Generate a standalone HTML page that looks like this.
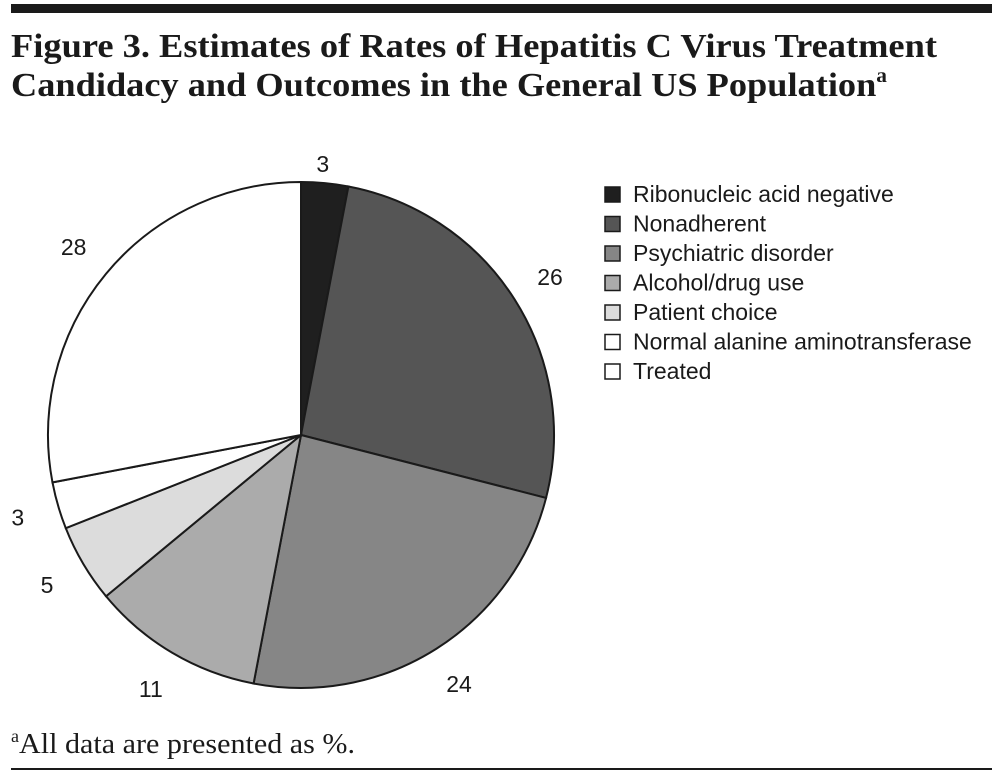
<!DOCTYPE html>
<html><head><meta charset="utf-8"><style>
body{margin:0;background:#fff}
svg{display:block}
</style></head><body>
<svg width="1002" height="775" xmlns="http://www.w3.org/2000/svg">
<rect x="11" y="4" width="981" height="9" fill="#1a1a1a"/>
<text x="11" y="57" font-family="Liberation Serif, serif" font-weight="bold" font-size="34" textLength="926" lengthAdjust="spacingAndGlyphs" fill="#1a1a1a">Figure 3. Estimates of Rates of Hepatitis C Virus Treatment</text>
<text x="11" y="96" font-family="Liberation Serif, serif" font-weight="bold" font-size="34" textLength="876" lengthAdjust="spacingAndGlyphs" fill="#1a1a1a">Candidacy and Outcomes in the General US Population<tspan font-size="20" dy="-14">a</tspan></text>
<g id="pie"></g>
<g id="legend"></g>
<text x="11" y="753" font-family="Liberation Serif, serif" font-size="29" fill="#1a1a1a"><tspan font-size="18" dy="-11">a</tspan><tspan dy="11" textLength="336" lengthAdjust="spacingAndGlyphs">All data are presented as %.</tspan></text>
<rect x="11" y="768" width="981" height="2" fill="#1a1a1a"/>
</svg>
<script>
const categories=["Ribonucleic acid negative","Nonadherent","Psychiatric disorder","Alcohol/drug use","Patient choice","Normal alanine aminotransferase","Treated"];
const values=[3,26,24,11,5,3,28];
const colors=["#1f1f1f","#555555","#868686","#ababab","#dcdcdc","#ffffff","#ffffff"];
const NS="http://www.w3.org/2000/svg";
const cx=301,cy=435,r=253,lr=295;
const pie=document.getElementById('pie');
const total=values.reduce((a,b)=>a+b,0);
let cum=0;
function pt(a,rad){return [cx+rad*Math.sin(a),cy-rad*Math.cos(a)];}
values.forEach((v,i)=>{
  const a0=cum/total*2*Math.PI;cum+=v;const a1=cum/total*2*Math.PI;
  const p0=pt(a0,r),p1=pt(a1,r);
  const path=document.createElementNS(NS,'path');
  path.setAttribute('d',`M${cx},${cy}L${p0[0]},${p0[1]}A${r},${r} 0 ${a1-a0>Math.PI?1:0} 1 ${p1[0]},${p1[1]}Z`);
  path.setAttribute('fill',colors[i]);path.setAttribute('stroke','#1a1a1a');path.setAttribute('stroke-width','2');
  
  
  pie.appendChild(path);
  const am=(a0+a1)/2;
  let lp=pt(am,lr);
  if(i===0){lp=pt(am,r);lp[0]-=2;lp[1]-=19;}
  const t=document.createElementNS(NS,'text');
  t.setAttribute('x',lp[0]);t.setAttribute('y',lp[1]+8);
  t.setAttribute('text-anchor','middle');t.setAttribute('font-family','Liberation Sans, sans-serif');t.setAttribute('font-size','23');t.setAttribute('fill','#1a1a1a');
  t.textContent=v;
  
  
  pie.appendChild(t);
});
const lg=document.getElementById('legend');
categories.forEach((c,i)=>{
  const y=187+i*29.5;
  const s=document.createElementNS(NS,'rect');
  s.setAttribute('x',605);s.setAttribute('y',y);s.setAttribute('width',15);s.setAttribute('height',15);
  s.setAttribute('fill',colors[i]);s.setAttribute('stroke','#1a1a1a');s.setAttribute('stroke-width','1.5');
  
  
  lg.appendChild(s);
  const t=document.createElementNS(NS,'text');
  t.setAttribute('x',633);t.setAttribute('y',y+15);
  t.setAttribute('font-family','Liberation Sans, sans-serif');t.setAttribute('font-size','23');t.setAttribute('fill','#1a1a1a');
  t.textContent=c;
  
  
  lg.appendChild(t);
});
</script>
</body></html>
